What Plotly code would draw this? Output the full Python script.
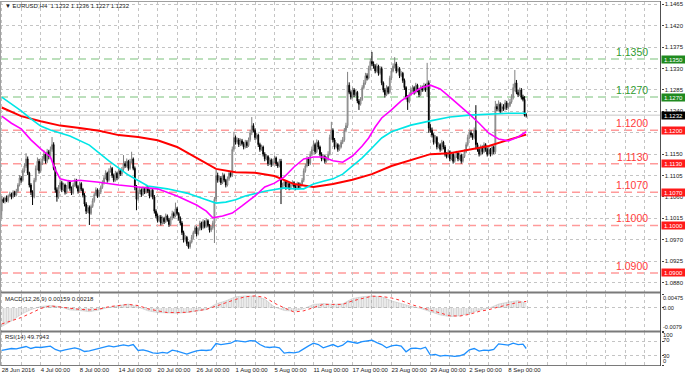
import plotly.graph_objects as go

# ---------------- candle data (EURUSD H4) ----------------
opens = [
1.1030,1.1055,1.1050,1.1058,1.1052,1.1062,1.1066,1.1060,1.1070,1.1064,1.1072,1.1085,
1.1100,1.1095,1.1115,1.1125,1.1140,1.1110,1.1085,1.1070,1.1060,1.1095,1.1120,1.1135,
1.1115,1.1130,1.1140,1.1150,1.1135,1.1155,1.1145,1.1160,1.1170,1.1120,1.1075,1.1060,
1.1080,1.1090,1.1075,1.1085,1.1070,1.1080,1.1092,1.1078,1.1068,1.1085,1.1095,1.1082,
1.1072,1.1088,1.1076,1.1064,1.1045,1.1030,1.1038,1.1025,1.1040,1.1052,1.1065,1.1075,
1.1062,1.1070,1.1080,1.1090,1.1100,1.1110,1.1095,1.1115,1.1120,1.1105,1.1095,1.1110,
1.1100,1.1115,1.1108,1.1118,1.1130,1.1125,1.1135,1.1120,1.1135,1.1140,1.1120,1.1080,
1.1055,1.1070,1.1075,1.1065,1.1078,1.1070,1.1080,1.1072,1.1062,1.1074,1.1060,1.1030,
1.1020,1.1010,1.1018,1.1005,1.1015,1.1008,1.1020,1.1012,1.1002,1.1015,1.1025,1.1020,
1.1035,1.1025,1.1015,1.1005,1.0985,1.0970,1.0975,1.0962,1.0955,1.0965,1.0975,1.0985,
1.0995,1.0982,1.0992,1.1005,1.0995,1.1008,1.0998,1.1010,1.1000,1.0990,1.0995,1.1005,
1.1055,1.1105,1.1095,1.1100,1.1090,1.1105,1.1095,1.1085,1.1098,1.1110,1.1105,1.1160,
1.1185,1.1175,1.1180,1.1170,1.1178,1.1172,1.1165,1.1175,1.1168,1.1180,1.1195,1.1210,
1.1200,1.1185,1.1190,1.1170,1.1160,1.1165,1.1150,1.1140,1.1145,1.1130,1.1138,1.1128,
1.1135,1.1142,1.1130,1.1125,1.1135,1.1080,1.1085,1.1092,1.1080,1.1088,1.1078,1.1085,
1.1090,1.1082,1.1078,1.1088,1.1080,1.1086,1.1095,1.1115,1.1125,1.1140,1.1130,1.1150,
1.1160,1.1170,1.1155,1.1175,1.1165,1.1150,1.1140,1.1145,1.1135,1.1140,1.1150,1.1185,
1.1200,1.1180,1.1165,1.1170,1.1160,1.1165,1.1175,1.1180,1.1200,1.1210,1.1295,1.1280,
1.1270,1.1285,1.1275,1.1280,1.1262,1.1255,1.1265,1.1290,1.1300,1.1315,1.1310,1.1330,
1.1345,1.1340,1.1335,1.1325,1.1335,1.1320,1.1330,1.1300,1.1285,1.1275,1.1290,1.1280,
1.1310,1.1325,1.1335,1.1340,1.1325,1.1330,1.1315,1.1320,1.1305,1.1290,1.1270,1.1260,
1.1275,1.1285,1.1290,1.1280,1.1295,1.1285,1.1275,1.1290,1.1285,1.1295,1.1285,1.1300,
1.1205,1.1200,1.1190,1.1175,1.1185,1.1165,1.1170,1.1160,1.1175,1.1165,1.1150,1.1145,
1.1155,1.1140,1.1150,1.1135,1.1145,1.1152,1.1140,1.1148,1.1135,1.1145,1.1155,1.1170,
1.1185,1.1195,1.1190,1.1185,1.1200,1.1170,1.1160,1.1150,1.1165,1.1155,1.1170,1.1160,
1.1150,1.1160,1.1150,1.1165,1.1155,1.1250,1.1245,1.1255,1.1240,1.1250,1.1245,1.1258,
1.1248,1.1252,1.1260,1.1270,1.1290,1.1300,1.1280,1.1275,1.1285,1.1270,1.1265,1.1232,
]
highs = [
1.1062,1.1059,1.1061,1.1063,1.1065,1.1071,1.1069,1.1074,1.1073,1.1077,1.1089,1.1106,
1.1104,1.1120,1.1131,1.1152,1.1145,1.1113,1.1089,1.1074,1.1100,1.1126,1.1143,1.1140,
1.1135,1.1146,1.1158,1.1154,1.1161,1.1159,1.1166,1.1186,1.1175,1.1124,1.1080,1.1085,
1.1096,1.1094,1.1090,1.1088,1.1085,1.1096,1.1095,1.1082,1.1090,1.1099,1.1098,1.1085,
1.1092,1.1091,1.1079,1.1068,1.1049,1.1043,1.1042,1.1044,1.1057,1.1069,1.1080,1.1078,
1.1075,1.1084,1.1095,1.1104,1.1116,1.1113,1.1120,1.1126,1.1123,1.1109,1.1115,1.1113,
1.1119,1.1119,1.1123,1.1148,1.1135,1.1141,1.1138,1.1140,1.1155,1.1143,1.1124,1.1085,
1.1074,1.1080,1.1078,1.1082,1.1081,1.1085,1.1083,1.1076,1.1078,1.1077,1.1064,1.1034,
1.1025,1.1022,1.1022,1.1019,1.1018,1.1025,1.1023,1.1016,1.1019,1.1031,1.1029,1.1048,
1.1039,1.1028,1.1019,1.1009,1.0989,1.0980,1.0978,1.0966,1.0969,1.0980,1.0989,1.1000,
1.0998,1.0996,1.1010,1.1008,1.1013,1.1011,1.1015,1.1013,1.1003,1.0999,1.1010,1.1060,
1.1117,1.1111,1.1105,1.1104,1.1111,1.1109,1.1098,1.1103,1.1115,1.1114,1.1166,1.1197,
1.1189,1.1185,1.1184,1.1183,1.1182,1.1176,1.1180,1.1179,1.1185,1.1201,1.1228,1.1215,
1.1204,1.1195,1.1193,1.1174,1.1170,1.1168,1.1154,1.1150,1.1148,1.1143,1.1141,1.1140,
1.1147,1.1145,1.1134,1.1140,1.1140,1.1090,1.1096,1.1095,1.1092,1.1091,1.1089,1.1095,
1.1093,1.1085,1.1092,1.1091,1.1090,1.1100,1.1120,1.1130,1.1146,1.1144,1.1156,1.1166,
1.1178,1.1174,1.1181,1.1179,1.1168,1.1154,1.1150,1.1148,1.1145,1.1156,1.1191,1.1218,
1.1204,1.1184,1.1175,1.1173,1.1170,1.1180,1.1186,1.1205,1.1216,1.1323,1.1301,1.1284,
1.1290,1.1289,1.1285,1.1283,1.1266,1.1270,1.1295,1.1306,1.1321,1.1320,1.1336,1.1351,
1.1365,1.1345,1.1339,1.1341,1.1338,1.1335,1.1334,1.1303,1.1289,1.1295,1.1293,1.1315,
1.1331,1.1341,1.1354,1.1344,1.1335,1.1333,1.1325,1.1323,1.1309,1.1293,1.1274,1.1280,
1.1290,1.1295,1.1293,1.1300,1.1298,1.1289,1.1295,1.1294,1.1300,1.1298,1.1342,1.1305,
1.1213,1.1206,1.1194,1.1190,1.1188,1.1175,1.1173,1.1180,1.1178,1.1169,1.1154,1.1160,
1.1158,1.1155,1.1153,1.1150,1.1157,1.1155,1.1153,1.1151,1.1150,1.1160,1.1175,1.1191,
1.1201,1.1200,1.1194,1.1206,1.1253,1.1174,1.1164,1.1170,1.1168,1.1175,1.1173,1.1164,
1.1165,1.1163,1.1170,1.1168,1.1262,1.1256,1.1263,1.1259,1.1257,1.1255,1.1264,1.1262,
1.1258,1.1266,1.1276,1.1298,1.1327,1.1306,1.1285,1.1290,1.1289,1.1275,1.1272,1.1236,
]
lows = [
1.1014,1.1047,1.1046,1.1049,1.1048,1.1059,1.1055,1.1057,1.1060,1.1061,1.1069,1.1082,
1.1090,1.1092,1.1111,1.1121,1.1106,1.1080,1.1064,1.1043,1.1057,1.1091,1.1116,1.1109,
1.1111,1.1127,1.1136,1.1130,1.1131,1.1139,1.1141,1.1155,1.1116,1.1069,1.1050,1.1056,
1.1077,1.1070,1.1072,1.1065,1.1066,1.1077,1.1073,1.1064,1.1065,1.1081,1.1078,1.1067,
1.1069,1.1072,1.1059,1.1040,1.1024,1.1026,1.1001,1.1022,1.1037,1.1048,1.1062,1.1058,
1.1059,1.1066,1.1077,1.1086,1.1097,1.1090,1.1092,1.1111,1.1100,1.1091,1.1092,1.1095,
1.1097,1.1104,1.1105,1.1114,1.1121,1.1122,1.1115,1.1117,1.1131,1.1116,1.1074,1.1032,
1.1052,1.1066,1.1060,1.1062,1.1066,1.1067,1.1068,1.1057,1.1059,1.1055,1.1025,1.1015,
1.1006,1.1007,1.1000,1.1002,1.1003,1.1005,1.1008,1.0997,1.0999,1.1011,1.1015,1.1017,
1.1021,1.1010,1.1000,1.0980,1.0964,1.0966,1.0957,1.0951,1.0951,1.0962,1.0971,1.0982,
1.0977,1.0979,1.0989,1.0990,1.0992,1.0994,1.0995,1.0996,1.0985,1.0986,1.0991,1.0963,
1.1051,1.1090,1.1091,1.1085,1.1087,1.1091,1.1080,1.1082,1.1094,1.1101,1.1102,1.1155,
1.1170,1.1171,1.1165,1.1167,1.1168,1.1160,1.1162,1.1163,1.1165,1.1176,1.1190,1.1196,
1.1180,1.1181,1.1165,1.1155,1.1157,1.1145,1.1135,1.1137,1.1125,1.1127,1.1123,1.1125,
1.1131,1.1125,1.1121,1.1122,1.1045,1.1076,1.1082,1.1075,1.1077,1.1074,1.1075,1.1082,
1.1078,1.1074,1.1075,1.1076,1.1077,1.1083,1.1091,1.1111,1.1122,1.1125,1.1127,1.1146,
1.1156,1.1150,1.1152,1.1160,1.1145,1.1135,1.1137,1.1130,1.1132,1.1136,1.1147,1.1180,
1.1175,1.1160,1.1162,1.1155,1.1157,1.1162,1.1171,1.1176,1.1196,1.1205,1.1276,1.1265,
1.1267,1.1270,1.1272,1.1257,1.1243,1.1252,1.1262,1.1286,1.1296,1.1305,1.1307,1.1326,
1.1335,1.1330,1.1320,1.1322,1.1315,1.1317,1.1295,1.1280,1.1269,1.1272,1.1276,1.1277,
1.1306,1.1322,1.1330,1.1320,1.1322,1.1310,1.1312,1.1300,1.1285,1.1265,1.1243,1.1257,
1.1272,1.1281,1.1275,1.1277,1.1280,1.1270,1.1272,1.1281,1.1282,1.1281,1.1270,1.1195,
1.1195,1.1185,1.1170,1.1172,1.1160,1.1162,1.1155,1.1157,1.1160,1.1145,1.1141,1.1142,
1.1135,1.1137,1.1130,1.1132,1.1142,1.1135,1.1137,1.1130,1.1132,1.1142,1.1152,1.1166,
1.1181,1.1185,1.1180,1.1181,1.1160,1.1155,1.1145,1.1147,1.1150,1.1152,1.1155,1.1145,
1.1147,1.1145,1.1147,1.1150,1.1150,1.1240,1.1241,1.1235,1.1237,1.1241,1.1242,1.1243,
1.1244,1.1249,1.1256,1.1265,1.1282,1.1276,1.1270,1.1272,1.1265,1.1261,1.1229,1.1227,
]
closes = [
1.1055,1.1050,1.1058,1.1052,1.1062,1.1066,1.1060,1.1070,1.1064,1.1072,1.1085,1.1100,
1.1095,1.1115,1.1125,1.1140,1.1110,1.1085,1.1070,1.1060,1.1095,1.1120,1.1135,1.1115,
1.1130,1.1140,1.1150,1.1135,1.1155,1.1145,1.1160,1.1170,1.1120,1.1075,1.1060,1.1080,
1.1090,1.1075,1.1085,1.1070,1.1080,1.1092,1.1078,1.1068,1.1085,1.1095,1.1082,1.1072,
1.1088,1.1076,1.1064,1.1045,1.1030,1.1038,1.1025,1.1040,1.1052,1.1065,1.1075,1.1062,
1.1070,1.1080,1.1090,1.1100,1.1110,1.1095,1.1115,1.1120,1.1105,1.1095,1.1110,1.1100,
1.1115,1.1108,1.1118,1.1130,1.1125,1.1135,1.1120,1.1135,1.1140,1.1120,1.1080,1.1055,
1.1070,1.1075,1.1065,1.1078,1.1070,1.1080,1.1072,1.1062,1.1074,1.1060,1.1030,1.1020,
1.1010,1.1018,1.1005,1.1015,1.1008,1.1020,1.1012,1.1002,1.1015,1.1025,1.1020,1.1035,
1.1025,1.1015,1.1005,1.0985,1.0970,1.0975,1.0962,1.0955,1.0965,1.0975,1.0985,1.0995,
1.0982,1.0992,1.1005,1.0995,1.1008,1.0998,1.1010,1.1000,1.0990,1.0995,1.1005,1.1055,
1.1105,1.1095,1.1100,1.1090,1.1105,1.1095,1.1085,1.1098,1.1110,1.1105,1.1160,1.1185,
1.1175,1.1180,1.1170,1.1178,1.1172,1.1165,1.1175,1.1168,1.1180,1.1195,1.1210,1.1200,
1.1185,1.1190,1.1170,1.1160,1.1165,1.1150,1.1140,1.1145,1.1130,1.1138,1.1128,1.1135,
1.1142,1.1130,1.1125,1.1135,1.1080,1.1085,1.1092,1.1080,1.1088,1.1078,1.1085,1.1090,
1.1082,1.1078,1.1088,1.1080,1.1086,1.1095,1.1115,1.1125,1.1140,1.1130,1.1150,1.1160,
1.1170,1.1155,1.1175,1.1165,1.1150,1.1140,1.1145,1.1135,1.1140,1.1150,1.1185,1.1200,
1.1180,1.1165,1.1170,1.1160,1.1165,1.1175,1.1180,1.1200,1.1210,1.1295,1.1280,1.1270,
1.1285,1.1275,1.1280,1.1262,1.1255,1.1265,1.1290,1.1300,1.1315,1.1310,1.1330,1.1345,
1.1340,1.1335,1.1325,1.1335,1.1320,1.1330,1.1300,1.1285,1.1275,1.1290,1.1280,1.1310,
1.1325,1.1335,1.1340,1.1325,1.1330,1.1315,1.1320,1.1305,1.1290,1.1270,1.1260,1.1275,
1.1285,1.1290,1.1280,1.1295,1.1285,1.1275,1.1290,1.1285,1.1295,1.1285,1.1300,1.1205,
1.1200,1.1190,1.1175,1.1185,1.1165,1.1170,1.1160,1.1175,1.1165,1.1150,1.1145,1.1155,
1.1140,1.1150,1.1135,1.1145,1.1152,1.1140,1.1148,1.1135,1.1145,1.1155,1.1170,1.1185,
1.1195,1.1190,1.1185,1.1200,1.1170,1.1160,1.1150,1.1165,1.1155,1.1170,1.1160,1.1150,
1.1160,1.1150,1.1165,1.1155,1.1250,1.1245,1.1255,1.1240,1.1250,1.1245,1.1258,1.1248,
1.1252,1.1260,1.1270,1.1290,1.1300,1.1280,1.1275,1.1285,1.1270,1.1265,1.1232,1.1232,
]
bars = list(range(len(closes)))

# ---------------- moving averages ----------------
red_ma_bars = [0, 12, 24, 36, 48, 60, 72, 84, 96, 108, 120, 132, 144, 156, 168, 180, 192,
               204, 216, 228, 240, 252, 264, 276, 288, 300, 312, 323]
red_ma_vals = [1.1248, 1.1230, 1.1219, 1.1210, 1.1205, 1.1199, 1.1190, 1.1186, 1.1179, 1.1165,
               1.1142, 1.1119, 1.1112, 1.1111, 1.1104, 1.1087, 1.1081, 1.1087, 1.1096, 1.1108,
               1.1125, 1.1138, 1.1150, 1.1152, 1.1159, 1.1167, 1.1180, 1.1191]
mag_ma_bars = [0, 6, 12, 18, 24, 30, 33, 36, 42, 48, 60, 72, 84, 96, 108, 120, 126, 130, 136,
               142, 148, 156, 162, 168, 174, 180, 186, 192, 198, 204, 210, 216, 222, 226, 230,
               234, 240, 246, 252, 258, 264, 270, 276, 282, 288, 294, 300, 306, 312, 318, 323]
mag_ma_vals = [1.1230, 1.1215, 1.1203, 1.1180, 1.1161, 1.1144, 1.1117, 1.1098, 1.1093, 1.1095,
               1.1091, 1.1085, 1.1081, 1.1077, 1.1062, 1.1043, 1.1030, 1.1016, 1.1020, 1.1026,
               1.1041, 1.1062, 1.1081, 1.1089, 1.1102, 1.1123, 1.1140, 1.1144, 1.1144, 1.1136,
               1.1133, 1.1146, 1.1167, 1.1184, 1.1207, 1.1226, 1.1243, 1.1262, 1.1276, 1.1289,
               1.1295, 1.1287, 1.1270, 1.1253, 1.1234, 1.1215, 1.1194, 1.1182, 1.1178, 1.1186,
               1.1197]
cyan_ma_bars = [0, 6, 12, 18, 24, 30, 42, 54, 66, 78, 90, 102, 114, 126, 132, 138, 144, 150,
                162, 174, 180, 186, 192, 198, 204, 210, 216, 222, 228, 234, 240, 252, 264,
                276, 288, 300, 312, 323]
cyan_ma_vals = [1.1270, 1.1255, 1.1241, 1.1224, 1.1209, 1.1201, 1.1188, 1.1169, 1.1136, 1.1106,
                1.1083, 1.1077, 1.1068, 1.1054, 1.1047, 1.1049, 1.1054, 1.1062, 1.1072, 1.1079,
                1.1077, 1.1077, 1.1087, 1.1093, 1.1098, 1.1108, 1.1125, 1.1142, 1.1163, 1.1184,
                1.1197, 1.1211, 1.1220, 1.1228, 1.1232, 1.1234, 1.1236, 1.1236]

# ---------------- MACD (12,26,9) ----------------
macd_bars = [0, 6, 12, 18, 24, 30, 36, 42, 48, 54, 60, 66, 72, 78, 84, 90, 96, 102, 108, 114,
             120, 126, 132, 138, 144, 150, 156, 162, 168, 174, 180, 186, 192, 198, 204, 210,
             216, 222, 228, 234, 240, 246, 252, 258, 264, 270, 276, 282, 288, 294, 300, 306,
             312, 318, 323]
macd_main = [-0.0064, -0.0045, -0.0022, -0.0006, 0.0005, 0.0008, 0.0004, -0.0007, -0.0009,
             -0.0013, -0.0007, 0.0002, 0.0008, 0.0013, 0.0003, -0.0010, -0.0016, -0.0018,
             -0.0018, -0.0016, -0.0011, -0.0006, 0.0014, 0.0024, 0.0038, 0.0041, 0.0040,
             0.0030, 0.0003, -0.0009, -0.0011, -0.0003, 0.0012, 0.0015, 0.0012, 0.0014,
             0.0032, 0.0038, 0.0041, 0.0038, 0.0024, 0.0014, 0.0006, -0.0002, -0.0013,
             -0.0024, -0.0030, -0.0027, -0.0018, -0.0008, -0.0001, 0.0013, 0.0020, 0.0025,
             0.0016]
macd_signal = [-0.0055, -0.0045, -0.0033, -0.0018, -0.0002, 0.0007, 0.0003, -0.0002, -0.0005,
               -0.0007, -0.0004, 0.0004, 0.0008, 0.0012, 0.0008, -0.0003, -0.0010, -0.0016,
               -0.0016, -0.0015, -0.0010, -0.0005, 0.0006, 0.0018, 0.0029, 0.0038, 0.0041,
               0.0036, 0.0016, 0.0000, -0.0014, -0.0010, 0.0002, 0.0012, 0.0012, 0.0012,
               0.0024, 0.0033, 0.0040, 0.0039, 0.0034, 0.0025, 0.0012, 0.0002, -0.0008,
               -0.0019, -0.0027, -0.0028, -0.0022, -0.0012, -0.0006, 0.0003, 0.0012, 0.0019,
               0.0022]
macd_last, signal_last = 0.00159, 0.00218
macd_ticks = [0.00475, 0.0, -0.0079]
macd_tick_text = ["0.00475", "0.00", "-0.0079"]

# ---------------- RSI (14) ----------------
rsi_bars = [0, 3, 6, 9, 12, 15, 18, 21, 24, 27, 30, 33, 36, 39, 42, 45, 48, 51, 54, 57, 60, 63,
            66, 69, 72, 75, 78, 81, 84, 87, 90, 93, 96, 99, 102, 105, 108, 111, 114, 117, 120,
            123, 126, 129, 132, 135, 138, 141, 144, 147, 150, 153, 156, 159, 162, 165, 168,
            171, 174, 177, 180, 183, 186, 189, 192, 195, 198, 201, 204, 207, 210, 213, 216,
            219, 222, 225, 228, 231, 234, 237, 240, 243, 246, 249, 252, 255, 258, 261, 264,
            267, 270, 273, 276, 279, 282, 285, 288, 291, 294, 297, 300, 303, 306, 309, 312,
            315, 318, 321, 323]
rsi_vals = [44, 47, 50, 49, 53, 56, 50, 54, 53, 55, 57, 47, 42, 46, 49, 52, 48, 41, 43, 47, 52,
            56, 58, 55, 59, 61, 58, 62, 44, 46, 42, 37, 35, 38, 36, 45, 42, 38, 33, 38, 43, 45,
            44, 46, 65, 62, 63, 66, 74, 72, 70, 74, 73, 62, 55, 53, 55, 52, 36, 38, 37, 40, 50,
            58, 66, 62, 52, 57, 62, 55, 60, 72, 70, 66, 71, 73, 75, 68, 62, 52, 58, 60, 57, 40,
            50, 51, 49, 54, 30, 32, 27, 29, 27, 26, 28, 33, 46, 50, 42, 45, 44, 47, 64, 62, 60,
            66, 62, 63, 50]
rsi_last = 49.7943
rsi_ticks = [100, 70, 30, 0]

# ---------------- axes text ----------------
date_ticks = [0, 24, 48, 72, 96, 120, 144, 168, 192, 216, 240, 264, 288, 312]
date_labels = ["28 Jun 2016", "4 Jul 00:00", "8 Jul 00:00", "14 Jul 00:00", "20 Jul 00:00",
               "26 Jul 00:00", "1 Aug 00:00", "5 Aug 00:00", "11 Aug 00:00", "17 Aug 00:00",
               "23 Aug 00:00", "29 Aug 00:00", "2 Sep 00:00", "8 Sep 00:00"]
price_ticks = [1.0880, 1.0925, 1.0970, 1.1015, 1.1060, 1.1105, 1.1150, 1.1195, 1.1240,
               1.1285, 1.1330, 1.1375, 1.1420, 1.1465]
hidden_price_labels = [1.1195]   # covered by the 1.1200 marker in the terminal
green_levels = [1.1350, 1.1270]
red_levels = [1.1200, 1.1130, 1.1070, 1.1000, 1.0900]

# ---------------- layout geometry ----------------
W, H = 685, 377
def py(p):
    return 1 - p / H
def pxx(p):
    return p / W

XR = 660.5
x_range = [-1.05, 405.7]
GRID = "#c4c4c4"
FONT = "Liberation Sans"
TXT = "#202020"

fig = go.Figure()

fig.add_trace(go.Candlestick(
    x=bars, open=opens, high=highs, low=lows, close=closes,
    xaxis="x", yaxis="y",
    increasing=dict(line=dict(color="#808080", width=1), fillcolor="#ffffff"),
    decreasing=dict(line=dict(color="#000000", width=1), fillcolor="#000000"),
    whiskerwidth=0, showlegend=False, hoverinfo="skip"))

fig.add_trace(go.Scatter(x=red_ma_bars, y=red_ma_vals, mode="lines", xaxis="x", yaxis="y",
                         line=dict(color="#ff0000", width=2), showlegend=False, hoverinfo="skip"))
fig.add_trace(go.Scatter(x=cyan_ma_bars, y=cyan_ma_vals, mode="lines", xaxis="x", yaxis="y",
                         line=dict(color="#00e6e6", width=1.6), showlegend=False, hoverinfo="skip"))
fig.add_trace(go.Scatter(x=mag_ma_bars, y=mag_ma_vals, mode="lines", xaxis="x", yaxis="y",
                         line=dict(color="#ff00ff", width=1.6), showlegend=False, hoverinfo="skip"))

# MACD histogram (hatched) + signal
fig.add_trace(go.Scatter(x=macd_bars, y=macd_main, mode="lines", xaxis="x2", yaxis="y2",
                         fill="tozeroy", fillcolor="rgba(0,0,0,0)",
                         fillpattern=dict(shape="|", size=2.5, solidity=0.6, fgcolor="#a0a0a0",
                                          bgcolor="rgba(0,0,0,0)"),
                         line=dict(color="rgba(160,160,160,0.6)", width=0.5),
                         showlegend=False, hoverinfo="skip"))
fig.add_trace(go.Scatter(x=macd_bars, y=macd_signal, mode="lines", xaxis="x2", yaxis="y2",
                         line=dict(color="#ff3030", width=1, dash="dot"),
                         showlegend=False, hoverinfo="skip"))

# RSI
fig.add_trace(go.Scatter(x=rsi_bars, y=rsi_vals, mode="lines", xaxis="x3", yaxis="y3",
                         line=dict(color="#1e90ff", width=1.3),
                         showlegend=False, hoverinfo="skip"))

shapes = []
for lv in green_levels:
    shapes.append(dict(type="line", xref="x", yref="y", x0=x_range[0], x1=x_range[1], y0=lv, y1=lv,
                       line=dict(color="#a6d6a6", width=1.5, dash="8px,5px"), layer="below"))
for lv in red_levels:
    shapes.append(dict(type="line", xref="x", yref="y", x0=x_range[0], x1=x_range[1], y0=lv, y1=lv,
                       line=dict(color="#ff9a9a", width=1.5, dash="8px,5px"), layer="below"))
# bid line
shapes.append(dict(type="line", xref="x", yref="y", x0=x_range[0], x1=x_range[1],
                   y0=closes[-1], y1=closes[-1], line=dict(color="#c8c8c8", width=1), layer="below"))
# frames
frame = "#7a7a7a"
shapes += [
    dict(type="line", xref="paper", yref="paper", x0=0, x1=pxx(XR), y0=py(1.5), y1=py(1.5),
         line=dict(color="#a0a0a0", width=1)),
    dict(type="line", xref="paper", yref="paper", x0=0, x1=pxx(XR), y0=py(292.5), y1=py(292.5),
         line=dict(color=frame, width=2)),
    dict(type="line", xref="paper", yref="paper", x0=0, x1=pxx(XR), y0=py(331.5), y1=py(331.5),
         line=dict(color=frame, width=2)),
    dict(type="line", xref="paper", yref="paper", x0=0, x1=pxx(XR), y0=py(365.5), y1=py(365.5),
         line=dict(color=frame, width=1)),
    dict(type="line", xref="paper", yref="paper", x0=pxx(XR), x1=pxx(XR), y0=py(1), y1=py(366),
         line=dict(color="#505050", width=1)),
    dict(type="line", xref="paper", yref="paper", x0=pxx(0.5), x1=pxx(0.5), y0=py(1), y1=py(366),
         line=dict(color="#a0a0a0", width=1)),
]

annotations = []
for lv in green_levels:
    annotations.append(dict(x=399, y=lv, xref="x", yref="y", text=f"{lv:.4f}", showarrow=False,
                            xanchor="right", yanchor="bottom", yshift=-1,
                            font=dict(family=FONT, size=10.5, color="#2f9a2f")))
    annotations.append(dict(x=pxx(661), y=lv, xref="paper", yref="y", text=f"{lv:.4f}",
                            showarrow=False, xanchor="left", yanchor="middle", bgcolor="#1f8a1f",
                            borderpad=0, width=23, height=7,
                            font=dict(family=FONT, size=6, color="#ffffff")))
for lv in red_levels:
    annotations.append(dict(x=399, y=lv, xref="x", yref="y", text=f"{lv:.4f}", showarrow=False,
                            xanchor="right", yanchor="bottom", yshift=-1,
                            font=dict(family=FONT, size=10.5, color="#ff3b3b")))
    annotations.append(dict(x=pxx(661), y=lv, xref="paper", yref="y", text=f"{lv:.4f}",
                            showarrow=False, xanchor="left", yanchor="middle", bgcolor="#ff1a1a",
                            borderpad=0, width=23, height=7,
                            font=dict(family=FONT, size=6, color="#ffffff")))
annotations.append(dict(x=pxx(661), y=closes[-1], xref="paper", yref="y", text=f"{closes[-1]:.4f}",
                        showarrow=False, xanchor="left", yanchor="middle", bgcolor="#000000",
                        borderpad=0, width=23, height=7,
                        font=dict(family=FONT, size=6, color="#ffffff")))
annotations.append(dict(x=pxx(3), y=py(6), xref="paper", yref="paper", showarrow=False,
                        xanchor="left", yanchor="middle",
                        text=f"\u25bc EURUSD,H4  {opens[-1]:.4f} {highs[-1]:.4f} {lows[-1]:.4f} {closes[-1]:.4f}",
                        font=dict(family=FONT, size=6, color=TXT)))
annotations.append(dict(x=pxx(3), y=py(298.5), xref="paper", yref="paper", showarrow=False,
                        xanchor="left", yanchor="middle",
                        text=f"MACD(12,26,9) {macd_last:.5f} {signal_last:.5f}",
                        font=dict(family=FONT, size=6, color=TXT)))
annotations.append(dict(x=pxx(3), y=py(337), xref="paper", yref="paper", showarrow=False,
                        xanchor="left", yanchor="middle", text=f"RSI(14) {rsi_last:.4f}",
                        font=dict(family=FONT, size=6, color=TXT)))
# sub-window scale labels, kept inside their windows as the terminal draws them
for val, txt, shift in zip(macd_ticks, macd_tick_text, [-4, 0, 4]):
    annotations.append(dict(x=pxx(662), y=val, xref="paper", yref="y2", text=txt,
                            showarrow=False, xanchor="left", yanchor="middle", yshift=shift,
                            borderpad=0, font=dict(family=FONT, size=5.6, color=TXT)))
for val, shift in zip(rsi_ticks, [-3, 2, -1, 4]):
    annotations.append(dict(x=pxx(662), y=val, xref="paper", yref="y3", text=str(val),
                            showarrow=False, xanchor="left", yanchor="middle", yshift=shift,
                            borderpad=0, font=dict(family=FONT, size=5.8, color=TXT)))

xcommon = dict(range=x_range, showgrid=True, gridcolor=GRID, griddash="dot", gridwidth=1,
               tickmode="array", tickvals=date_ticks, zeroline=False, showline=False,
               minor=dict(tickmode="linear", tick0=0, dtick=12, showgrid=True, gridcolor=GRID,
                          griddash="dot", gridwidth=1),
               domain=[0, pxx(XR)])
ycommon = dict(side="right", showline=False, zeroline=False, ticks="outside", ticklen=2,
               tickcolor="#404040", tickfont=dict(family=FONT, size=6, color=TXT),
               showgrid=True, gridcolor=GRID, griddash="dot", gridwidth=1)

fig.update_layout(
    width=W, height=H, margin=dict(l=0, r=0, t=0, b=0),
    paper_bgcolor="#ffffff", plot_bgcolor="#ffffff",
    showlegend=False, shapes=shapes, annotations=annotations,
    xaxis=dict(**xcommon, anchor="y", showticklabels=False, rangeslider=dict(visible=False)),
    xaxis2=dict(**xcommon, anchor="y2", showticklabels=False, matches="x"),
    xaxis3=dict(**xcommon, anchor="y3", showticklabels=True, matches="x", ticktext=date_labels,
                ticks="", ticklabelposition="outside right", tickangle=0,
                tickfont=dict(family=FONT, size=6, color=TXT)),
    yaxis=dict(**ycommon, domain=[py(292), py(2)], range=[1.0860, 1.1470], anchor="x",
               tickmode="array", tickvals=price_ticks,
               ticktext=["" if v in hidden_price_labels else f"{v:.4f}" for v in price_ticks]),
    yaxis2=dict(**ycommon, domain=[py(331), py(294)], range=[-0.0079, 0.00475], anchor="x2",
                tickmode="array", tickvals=macd_ticks, showticklabels=False),
    yaxis3=dict(**ycommon, domain=[py(365), py(332)], range=[0, 100], anchor="x3",
                tickmode="array", tickvals=rsi_ticks, showticklabels=False),
)

fig.write_html("out.html", config={"displayModeBar": False},
               post_script="document.body.style.margin='0';document.body.style.overflow='hidden';")
